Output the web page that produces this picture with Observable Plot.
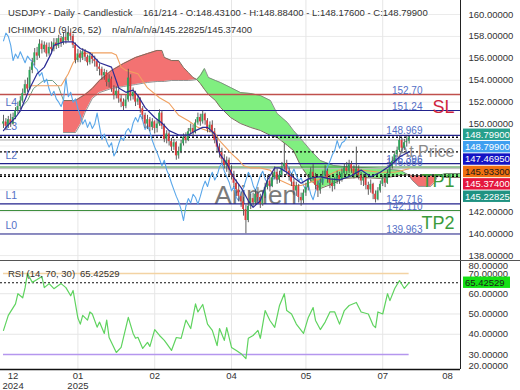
<!DOCTYPE html>
<html>
<head>
<meta charset="utf-8">
<script src="https://cdn.jsdelivr.net/npm/d3@7"></script>
<script src="https://cdn.jsdelivr.net/npm/@observablehq/plot@0.6"></script>
<style>
html,body{margin:0;padding:0;background:#fff;}
#chart{width:520px;height:390px;overflow:hidden;}
#chart svg{display:block;}
</style>
</head>
<body>
<div id="chart"></div>
<script>
// ---------- data ----------
const titleLeft = "USDJPY - Daily - Candlestick";
const titleRight = "161/214 - O:148.43100 - H:148.88400 - L:148.17600 - C:148.79900";
const ichiLeft = "ICHIMOKU (9, 26, 52)";
const ichiRight = "n/a/n/a/n/a/145.22825/145.37400";
const rsiTitle = "RSI (14, 70, 30)";
const rsiValueText = "65.42529";
const watermark = "Arimen";

const firstOpen = 150.0;
const closes = [150.2,149.8,150.4,150.0,150.6,151.2,151.6,152.1,152.8,153.6,
153.2,154.9,155.6,156.5,156.2,157.3,156.8,157.2,156.4,157.0,
156.8,157.4,157.1,157.8,157.4,157.9,157.6,158.3,158.0,157.2,
155.8,156.4,156.0,156.6,156.1,155.6,156.2,155.9,155.7,155.2,
155.0,154.4,154.7,153.8,154.1,153.2,152.6,153.0,152.3,152.0,
151.6,152.2,154.2,152.5,152.9,152.0,152.3,151.4,150.8,150.0,
150.4,149.7,150.2,149.6,150.0,151.0,149.8,148.6,149.1,148.4,
147.9,148.3,147.1,147.5,148.2,148.8,148.5,149.3,149.6,149.2,
150.1,150.6,150.2,150.9,150.3,149.5,149.9,149.3,148.5,147.9,
147.4,146.8,146.2,146.7,145.8,145.3,144.6,144.0,143.4,142.9,
142.2,141.2,142.5,143.2,142.8,143.6,143.3,142.7,143.4,144.2,
144.8,144.3,145.1,145.6,144.9,145.3,146.1,146.4,145.7,145.2,
144.7,143.9,144.3,143.3,143.0,143.7,144.2,144.9,145.6,145.2,
144.4,143.9,144.6,145.3,145.7,145.0,144.6,144.3,144.8,145.3,
144.9,145.5,146.0,145.7,146.3,145.9,145.4,145.9,145.3,144.8,
145.1,144.4,144.0,144.5,143.6,143.1,143.9,144.5,145.0,144.6,
145.5,146.1,146.6,147.2,147.6,148.5,147.8,148.3,148.431,148.799];
const highs = [150.8,150.5,150.7,150.9,151.0,151.5,152.0,152.5,153.2,154.0,
154.2,155.2,156.0,156.9,157.0,157.7,157.6,157.5,157.4,157.4,
157.5,157.8,157.8,158.1,158.0,158.3,158.4,158.9,158.7,158.2,
157.4,156.8,156.7,156.9,156.8,156.3,156.5,156.4,156.2,155.9,
155.5,155.2,155.0,154.9,154.5,154.3,153.5,153.4,153.2,152.6,
152.3,152.6,155.0,154.5,153.3,153.0,152.7,152.4,151.6,151.0,
150.8,150.6,150.5,150.3,150.4,151.3,151.2,150.0,149.4,149.3,
148.7,148.6,148.4,147.9,148.5,149.1,149.2,149.6,150.0,149.9,
150.4,151.0,150.9,151.2,151.0,150.5,150.2,150.3,149.6,148.8,
148.2,147.8,147.2,147.0,146.9,146.2,145.7,144.9,144.5,143.8,
143.3,142.6,142.9,143.6,143.7,144.0,144.2,143.6,143.8,144.6,
145.3,145.1,145.6,146.1,145.9,145.7,146.5,148.2,146.7,146.0,
145.5,145.0,144.7,144.5,143.7,144.0,144.6,145.3,146.0,146.3,
145.5,144.8,145.0,145.7,146.2,145.9,145.3,145.0,145.1,145.7,
145.6,145.9,146.4,146.5,146.7,146.6,146.2,147.9,146.2,145.6,
145.4,145.3,144.7,144.9,144.6,143.9,144.2,144.8,145.3,145.2,
145.8,146.5,147.0,147.5,147.9,148.9,148.7,148.6,148.9,148.884];
const lows = [149.6,149.4,149.6,149.7,149.9,150.4,150.9,151.3,151.9,152.6,
152.9,153.1,154.6,155.3,155.8,156.0,156.4,156.5,156.1,156.2,
156.4,156.6,156.8,156.9,157.0,157.2,157.3,157.5,157.6,156.9,
155.5,155.6,155.6,155.8,155.7,155.3,155.4,155.5,155.2,154.8,
154.4,154.0,154.0,153.4,153.3,152.9,152.2,152.3,151.9,151.5,
151.2,151.4,152.0,152.1,152.2,151.6,151.7,151.0,150.4,149.6,
149.5,149.3,149.4,149.1,149.2,149.8,149.5,148.3,148.2,148.0,
147.5,147.6,146.7,146.8,147.3,148.0,148.2,148.4,149.0,148.8,
149.1,149.9,149.8,150.0,149.9,149.2,149.2,148.9,148.2,147.5,
146.9,146.4,145.9,145.6,145.4,144.9,144.2,143.4,142.9,142.4,
141.6,140.0,141.0,142.2,142.4,142.6,142.9,142.3,142.5,143.2,
144.0,143.8,144.2,144.9,144.5,144.6,145.1,145.8,145.3,144.8,
144.3,143.5,143.4,142.8,142.5,142.7,143.4,143.9,144.7,144.8,
144.0,143.3,143.6,144.4,145.0,144.6,144.1,143.8,144.0,144.5,
144.5,144.7,145.2,145.3,145.5,145.5,145.0,145.2,144.9,144.4,
144.3,144.0,143.5,143.7,143.1,142.8,143.0,143.7,144.3,144.2,
144.5,145.4,145.9,146.4,146.9,147.4,147.4,147.6,147.9,148.176];

// Ichimoku lines (bar index, price)
const tenkanX = [0,1,5,7,11,14,17,20,21,25,29,32,36,40,45,48,51,54,56,59,63,66,69,73,77,80,83,85,88,90,93,96,99,102,104,107,110,113,115,118,121,124,127,129,132,136,140,145,149,153,157,161,165,169];
const tenkanY = [149.4,149.7,150.6,151.2,153.3,154.6,155.2,156.5,157.2,157.5,157.5,156.9,156.5,155.6,155.2,153.3,152.9,153.1,152.6,151.5,150.6,150.1,149.4,149.0,149.0,149.4,149.7,149.7,149.1,147.3,146.4,145.1,144.2,143.0,142.4,143.0,144.9,146.0,146.0,145.6,145.1,144.6,145.0,145.1,145.2,145.0,144.9,145.3,145.8,145.2,145.6,146.2,147.0,147.47];
const kijunX = [11,24,27,29,32,36,45,47,49,51,56,60,65,69,73,77,81,85,88,90,95,98,100,103,107,111,115,120,124,128,132,140,149,157,163,169];
const kijunY = [153.5,153.5,154.6,155.6,156.4,156.5,156.5,156.3,155.2,154.9,154.6,153.3,152.4,151.9,150.8,150.3,149.7,149.4,149.2,148.5,147.3,146.7,146.2,146.0,146.0,145.8,144.9,144.4,144.4,144.7,145.0,145.8,145.8,145.6,145.6,145.93];
const cloudX = [25,30,32,34,37,40,45,50,55,60,64,66,67,70,73,75,77,79,80.5,82,83.75,85.4,88.3,90.4,94.6,98.75,103,107,111.25,114,118.3,120.8,123.75,128,132,137.5,141.7,148.75,157,165.4,168.75,170.4,173,178,179.6,180.8,184.2,190.4];
const spanA = [149.23,149.23,149.96,151.06,152.34,152.88,153.25,153.43,153.61,153.80,153.89,153.89,153.89,153.98,153.98,153.98,153.98,154.02,154.07,154.43,155.07,154.25,153.98,153.80,153.34,152.88,152.79,152.61,152.15,150.97,150.15,149.42,148.69,147.59,146.68,146.22,146.13,146.04,145.95,145.77,145.36,144.85,144.31,144.31,144.67,145.26,145.49,145.49];
const spanB = [152.15,152.15,152.43,152.70,153.25,153.98,154.89,155.53,156.08,156.44,156.72,156.72,156.08,155.80,155.80,155.16,154.71,154.25,154.07,153.70,153.16,152.70,152.15,151.51,150.60,150.05,149.69,149.42,148.96,148.78,148.05,147.59,146.22,144.85,144.12,144.58,145.04,145.13,145.04,145.31,145.36,145.31,145.31,145.31,145.31,145.26,145.13,145.13];
const spanPreX = [7,10,12.5,16.7,20.4,22.9,25];
const spanPreY = [151.42,152.15,153.25,153.98,153.98,153.43,152.15];

// horizontal levels
const levelPrices = [152.70,151.24,148.969,146.396,146.086,142.716,142.110,139.963];
const levelKinds  = ["sl","L","L","L","tp","L","tp","L"];
const levelLabels = ["152.70","151.24","148.969","146.396","146.086","142.716","142.110","139.963"];
const levelNames  = ["","L4","L3","L2","","L1","","L0"];
const refLevel = 148.55;
const annTexts  = ["SL","At Price","TP1","TP2"];
const annPrices = [151.24,147.4695,145.374,139.963];

// right-side value boxes
const boxVals  = [148.799,148.799,147.4695,145.933,145.374,145.22825];
const boxTexts = ["148.79900","148.79900","147.46950","145.93300","145.37400","145.22825"];
const boxKinds = ["close","chikou","tenkan","kijun","spanB","spanA"];

// axes
const priceTicks = [138,140,142,150,152,154,156,158,160];
const monthTicks = [4,31,63,95,126,158,185];
const monthLabels = ["12\n2024","01\n2025","02","04","05","07","08"];
const monthGrid = [31,63,95,126,158];

// RSI (bar index, value)
const rsiX = [0,2,5,6,8,9,10,12,14,16,17,19,21,24,26,28,29,31,32,33,35,36,37,39,40,42,43,44,47,49,52,54,55,56,58,60,61,63,65,67,68,70,72,74,76,78,80,81,83,85,87,89,90,92,93,95,97,99,101,102,104,106,107,109,111,113,115,117,118,120,122,125,127,129,130,132,134,136,138,140,142,144,147,149,152,154,155,156,158,160,161,163,165,167,169];
const rsiY = [41.9,49.3,55,60,58,63,70,65.6,67,68.5,63,65,62.5,65,63,59,61.6,48,45,49.3,47,51,50,43.5,46,40.4,47,38.4,31,33.5,48.3,40.4,38,38.5,33,36,34,42.3,39.4,37,35.4,32,38.4,38,47,42.8,55,51,54.7,45,41.9,34.4,42.8,37,43.3,33.5,32,30.4,28,38,39.4,41.9,38,51.7,46.8,43.4,54.2,60,51.7,50,45,40.4,48.3,53.2,46.8,42.3,46,51,51,45,51.7,54.2,55.7,51,50,44.4,43.3,51,50,60,56.6,62.6,66.5,62.6,65.43];
const rsiNow = 65.42529;
const rsiUpper = 70, rsiLower = 30;
const rsiTicks = [30,40,50,60,70];
const rsiEdgeLabels = ["80.00000","20.00000"];

// ---------- build ----------
const FONT = '"Liberation Sans", Arial, sans-serif';
const X0 = -1.25, X1 = 190.4;
const W = 520, MR = 60;
const LBL = "#5470c6";

const bars = closes.map((c, i) => ({i, o: i === 0 ? firstOpen : closes[i - 1], h: highs[i], l: lows[i], c}));
const chikou = closes.slice(26).map((c, k) => ({i: k, v: c}));
const tenkan = tenkanX.map((x, k) => ({i: x, v: tenkanY[k]}));
const kijun = kijunX.map((x, k) => ({i: x, v: kijunY[k]}));
const cloud = cloudX.map((x, k) => ({i: x, a: spanA[k], b: spanB[k]}));
const spanPre = spanPreX.map((x, k) => ({i: x, v: spanPreY[k]}));
const levels = levelPrices.map((p, k) => ({p, kind: levelKinds[k], label: levelLabels[k], name: levelNames[k]}));
const rsi = rsiX.map((x, k) => ({i: x, v: rsiY[k]}));
const lastIdx = closes.length - 1;

const levelColor = {sl: "#c0504d", L: "#22228c", tp: "#3f8f3f"};
const annStyle = {
  "SL": {fill: "#d0243c", dy: -3.5, size: 18},
  "At Price": {fill: "#8a8a8a", dy: 0, size: 16},
  "TP1": {fill: "#3b9b3b", dy: 6, size: 18},
  "TP2": {fill: "#3b9b3b", dy: -11, size: 18}
};
const boxStyle = {
  close: {fill: "#27a08c", text: "#fff"},
  chikou: {fill: "#3f9ff0", text: "#fff"},
  tenkan: {fill: "#1414c4", text: "#fff"},
  kijun: {fill: "#f07010", text: "#1a1a1a"},
  spanB: {fill: "#e4173d", text: "#fff"},
  spanA: {fill: "#1f9282", text: "#fff"}
};
const dottedVals = boxVals.filter((v, k) => boxKinds[k] !== "chikou" && boxKinds[k] !== "kijun");
const kijunNow = boxVals[boxKinds.indexOf("kijun")];

const annMarks = annTexts.map((t, k) => Plot.text([{t, p: annPrices[k]}], {
  x: X1, y: "p", text: "t", dx: -6, dy: annStyle[t].dy, textAnchor: "end",
  fill: annStyle[t].fill, fontSize: annStyle[t].size
}));

const price = Plot.plot({
  width: W, height: 260, marginLeft: 0, marginRight: MR, marginTop: 0, marginBottom: 0,
  style: {fontFamily: FONT, fontSize: "9.5px", color: "#333", background: "#fff"},
  x: {domain: [X0, X1], axis: null},
  y: {domain: [137.55, 161.28], axis: "right", ticks: priceTicks, tickFormat: d3.format(".5f"),
      tickSize: 0, tickPadding: 8, label: null},
  marks: [
    Plot.ruleY(d3.range(138, 161, 2), {stroke: "#ebebeb"}),
    Plot.ruleX(monthGrid, {stroke: "#e6e6e6"}),
    Plot.text([watermark], {frameAnchor: "top-left", dx: 214, dy: 203, text: d => d, fontSize: 26,
      fill: "#7a7a7a", textAnchor: "start", lineAnchor: "bottom"}),
    Plot.areaY(cloud, {x: "i", y1: "a", y2: d => Math.max(d.a, d.b), fill: "#f37272"}),
    Plot.areaY(cloud, {x: "i", y1: "b", y2: d => Math.max(d.a, d.b), fill: "#80ef80"}),
    Plot.line(cloud, {x: "i", y: "b", stroke: "#7d6e5e", strokeWidth: 1}),
    Plot.line(cloud, {x: "i", y: "a", stroke: "#777", strokeWidth: 0.8}),
    Plot.line(spanPre, {x: "i", y: "v", stroke: "#6f9f84", strokeWidth: 1}),
    Plot.ruleY(levels, {y: "p", stroke: d => levelColor[d.kind], strokeWidth: d => d.kind === "sl" ? 1.6 : 1.1}),
    Plot.ruleY([refLevel], {stroke: "#aaa"}),
    Plot.ruleY([kijunNow], {stroke: "#bbb"}),
    Plot.ruleY(dottedVals, {stroke: "#000", strokeDasharray: "2,2", strokeWidth: 1.3}),
    Plot.text(levels.filter(d => d.name), {x: X0, y: "p", text: "name", dx: 5, dy: -5,
      textAnchor: "start", lineAnchor: "bottom", fill: LBL, fontSize: 10.5}),
    Plot.text(levels, {x: X1, y: "p", text: "label", dx: -38, dy: -1, textAnchor: "end",
      lineAnchor: "bottom", fill: LBL, fontSize: 10}),
    ...annMarks,
    Plot.line(chikou, {x: "i", y: "v", stroke: "#5aa7ea", strokeWidth: 1.1}),
    Plot.line(kijun, {x: "i", y: "v", stroke: "#f0a060", strokeWidth: 1.1}),
    Plot.ruleX(bars, {x: "i", y1: d => Math.min(d.l, d.o, d.c), y2: d => Math.max(d.h, d.o, d.c),
      stroke: "#4d4d4d", strokeWidth: 0.9}),
    Plot.rect(bars, {x1: d => d.i - 0.36, x2: d => d.i + 0.36, y1: "o", y2: "c",
      fill: d => d.c >= d.o ? "#2da55a" : "#e23b3b"}),
    Plot.line(tenkan, {x: "i", y: "v", stroke: "#2c2c96", strokeWidth: 1.2}),
    Plot.ruleX([X1], {stroke: "#222"})
  ]
});

// header texts
const ps = d3.select(price);
const hdr = ps.append("g").attr("font-family", FONT).attr("font-size", 9.5).attr("fill", "#333").attr("text-anchor", "start");
hdr.append("text").attr("x", 8).attr("y", 16).text(titleLeft);
hdr.append("text").attr("x", 143).attr("y", 16).text(titleRight);
hdr.append("text").attr("x", 8).attr("y", 33).text(ichiLeft);
hdr.append("text").attr("x", 112).attr("y", 33).text(ichiRight);

// value boxes (stacked so they don't overlap)
const ys = price.scale("y");
let prevY = -Infinity;
const boxG = ps.append("g").attr("font-family", FONT).attr("font-size", 9.5).attr("text-anchor", "start");
boxVals.forEach((v, k) => {
  let y = ys.apply(v) - (k === 0 ? 2.5 : 0);
  y = Math.max(y, prevY + 12.4);
  prevY = y;
  const st = boxStyle[boxKinds[k]];
  boxG.append("rect").attr("x", 463).attr("y", y - 5.7).attr("width", 47).attr("height", 11.4).attr("fill", st.fill);
  boxG.append("text").attr("x", 465).attr("y", y).attr("dy", "0.35em").attr("fill", st.text).text(boxTexts[k]);
});

// RSI pane
const monthFmt = new Map(monthTicks.map((t, k) => [t, monthLabels[k]]));
const rsiPlot = Plot.plot({
  width: W, height: 130, marginLeft: 0, marginRight: MR, marginTop: 0, marginBottom: 21,
  style: {fontFamily: FONT, fontSize: "9.5px", color: "#333", background: "#fff"},
  x: {domain: [X0, X1], ticks: monthTicks, tickFormat: d => monthFmt.get(d), tickSize: 0, tickPadding: 3, label: null},
  y: {domain: [22.6, 76.4], axis: "right", ticks: rsiTicks, tickFormat: d3.format(".5f"),
      tickSize: 0, tickPadding: 8, label: null},
  marks: [
    Plot.ruleY([40, 50, 60], {stroke: "#e6e6e6"}),
    Plot.ruleX(monthGrid, {stroke: "#e6e6e6"}),
    Plot.ruleY([rsiUpper], {x1: 0, x2: lastIdx, stroke: "#f3d3a3", strokeWidth: 1.6}),
    Plot.ruleY([rsiLower], {x1: 0, x2: lastIdx, stroke: "#b596ee", strokeWidth: 1.6}),
    Plot.ruleY([rsiNow], {stroke: "#111", strokeDasharray: "2,2", strokeWidth: 1.2}),
    Plot.line(rsi, {x: "i", y: "v", stroke: "#5fd35f", strokeWidth: 1.2}),
    Plot.text([rsiEdgeLabels[0]], {frameAnchor: "top-right", dx: 8, dy: 5, text: d => d, textAnchor: "start", lineAnchor: "middle"}),
    Plot.text([rsiEdgeLabels[1]], {frameAnchor: "bottom-right", dx: 8, dy: -3.5, text: d => d, textAnchor: "start", lineAnchor: "middle"}),
    Plot.ruleX([X1], {stroke: "#222"}),
    Plot.ruleY([22.6], {stroke: "#111", strokeWidth: 1.5})
  ]
});
const rs = d3.select(rsiPlot);
rs.append("line").attr("x1", 0).attr("x2", W).attr("y1", 0.5).attr("y2", 0.5).attr("stroke", "#555");
const rg = rs.append("g").attr("font-family", FONT).attr("font-size", 9.5).attr("fill", "#333").attr("text-anchor", "start");
rg.append("text").attr("x", 8).attr("y", 16.5).text(rsiTitle);
rg.append("text").attr("x", 80).attr("y", 16.5).text(rsiValueText);
const ry = rsiPlot.scale("y").apply(rsiNow);
rg.append("rect").attr("x", 463).attr("y", ry - 5.7).attr("width", 47).attr("height", 11.4).attr("fill", "#14e014");
rg.append("text").attr("x", 465).attr("y", ry).attr("dy", "0.35em").attr("fill", "#1a1a1a").text(rsiValueText);

const root = document.getElementById("chart");
root.appendChild(price);
root.appendChild(rsiPlot);
</script>
</body>
</html>
